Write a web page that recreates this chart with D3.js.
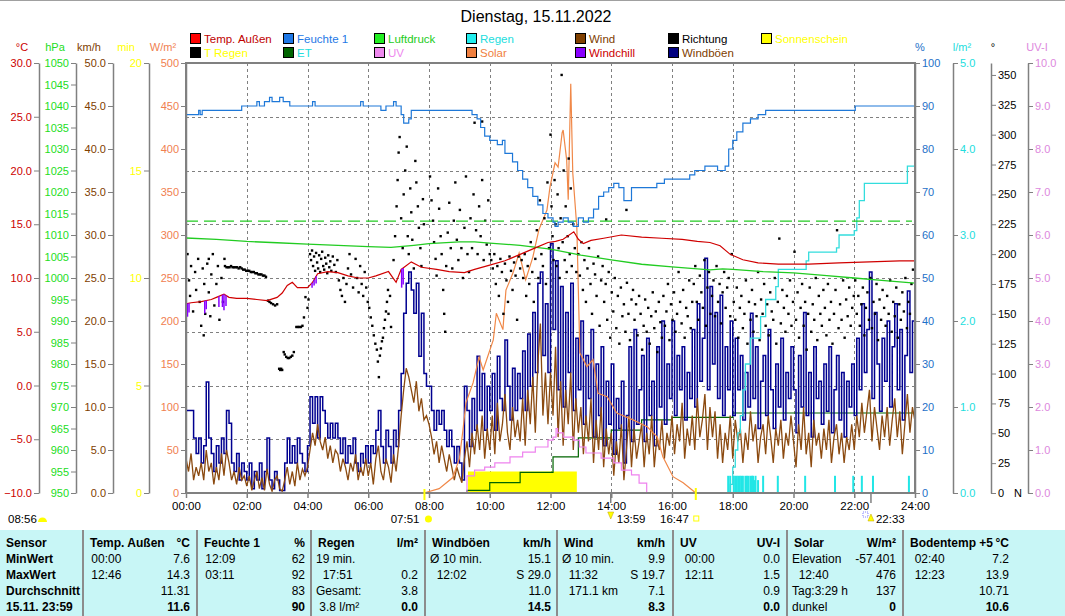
<!DOCTYPE html>
<html><head><meta charset="utf-8">
<script src="https://cdn.jsdelivr.net/npm/d3@7"></script>
<style>body{margin:0;background:#fff;} svg{display:block;font-family:"Liberation Sans",Arial,sans-serif;}</style>
</head><body><svg id="c" width="1065" height="616"></svg>
<script>
// ---------------- DATA ----------------
const title = "Dienstag, 15.11.2022";
const xTickLabels = ["00:00","02:00","04:00","06:00","08:00","10:00","12:00","14:00","16:00","18:00","20:00","22:00","24:00"];

const humidity = [["00:00",88],["00:25",89],["00:28",88],["00:32",89],["01:50",90],["02:20",91],["02:25",90],["02:35",91],["02:45",92],["02:50",91],["03:05",92],["03:12",91],["03:25",90],["04:00",90],["04:10",91],["04:15",90],["05:40",90],["05:45",91],["05:50",90],["06:25",89],["06:35",90],["06:50",91],["06:55",90],["07:05",88],["07:10",86],["07:20",87],["07:25",89],["09:20",89],["09:25",88],["09:35",87],["09:42",85],["09:50",83],["10:00",82],["10:15",81],["10:25",82],["10:30",79],["10:45",77],["10:55",75],["11:05",73],["11:15",71],["11:25",69],["11:35",67],["11:45",65],["11:55",64],["12:05",63],["12:09",62],["12:15",63],["12:25",64],["12:35",63],["12:45",62],["12:55",64],["13:05",63],["13:15",64],["13:25",66],["13:35",69],["13:45",70],["13:55",71],["14:05",72],["14:15",71],["14:25",68],["14:40",71],["15:00",71],["15:30",72],["15:45",73],["16:20",73],["16:35",74],["16:45",75],["17:05",76],["17:30",75],["17:45",76],["17:52",80],["18:00",82],["18:08",84],["18:20",86],["18:35",87],["18:50",88],["19:05",89],["22:02",90],["24:00",90]];

const temperature = [["00:00",7.6],["00:10",7.7],["00:30",7.8],["00:50",8.0],["01:00",8.2],["01:15",8.5],["01:25",8.2],["01:40",8.1],["02:00",8.1],["02:20",8.0],["02:40",7.9],["03:00",8.2],["03:10",8.6],["03:20",9.3],["03:30",9.6],["03:40",9.1],["04:00",9.1],["04:10",9.6],["04:20",10.4],["04:40",10.6],["05:00",10.5],["05:20",10.2],["05:40",10.0],["06:00",10.0],["06:15",10.2],["06:40",10.6],["06:55",9.6],["07:05",10.8],["07:25",11.5],["07:45",11.0],["08:15",10.8],["08:40",10.6],["09:10",10.5],["09:30",10.8],["10:00",11.2],["10:30",11.6],["11:00",12.2],["11:30",12.8],["11:55",13.3],["12:10",13.4],["12:25",13.6],["12:46",14.3],["12:55",13.6],["13:05",13.2],["13:20",13.5],["13:45",13.7],["14:20",14.0],["15:00",13.8],["15:40",13.7],["16:20",13.6],["16:50",13.4],["17:15",13.3],["17:35",13.0],["17:55",12.2],["18:20",11.7],["18:50",11.4],["19:30",11.3],["20:30",11.3],["21:30",11.4],["22:30",11.5],["23:30",11.6],["24:00",11.6]];

const windchill = [["00:00",6.1],["00:03",6.4],["00:06",6.8],["00:37",6.7],["00:40",7.1],["01:05",7.3],["01:12",7.3],["01:15",7.0],["01:19",7.4],["04:09",9.1],["04:13",9.3],["04:17",9.5],["07:06",9.1],["07:09",9.4]];

const pressure = [["00:00",1009.3],["01:00",1009.0],["02:00",1008.5],["03:00",1008.2],["04:00",1007.9],["05:00",1007.6],["06:00",1007.3],["06:45",1007.1],["07:30",1007.6],["08:00",1008.0],["09:00",1008.4],["09:30",1008.4],["10:00",1008.1],["11:00",1007.6],["11:40",1007.0],["12:00",1006.7],["13:00",1005.3],["14:00",1004.2],["15:00",1003.2],["16:00",1002.6],["17:15",1001.9],["17:40",1002.1],["18:00",1002.0],["19:00",1001.5],["20:00",1001.2],["21:00",1000.6],["22:00",1000.0],["23:00",999.4],["24:00",998.8]];
const pressureRef = 1013.25;

// 5-minute values, one row per hour
const gust = [
 [9.6,9.6,9.6,6.4,4.6,6.4,3.5,5.5,12.9,6.4,4.6,2.5],
 [5.5,3.5,6.4,4.6,9.6,8.1,3.5,2.5,4.6,1.5,3.5,2.5],
 [1.5,3.5,0.5,2.5,1.5,3.5,0.5,2.5,6.4,1.5,0.5,2.5],
 [1.5,0.3,0.3,3.5,6.4,3.5,5.5,3.5,6.4,4.6,3.5,2.5],
 [5.5,11.2,8.1,11.2,6.4,11.2,9.6,8.1,6.4,8.1,6.4,8.1],
 [6.4,4.6,6.4,3.5,5.5,4.6,6.4,3.5,2.5,4.6,3.5,5.5],
 [3.5,5.5,4.6,7.3,9.6,5.4,3.5,7.3,5.4,3.5,7.3,5.4],
 [9.6,13.9,20.9,24.4,25.7,23.6,20.9,24.4,15.9,20.9,13.9,12.4],
 [12.4,9.6,7.3,9.6,8.0,9.6,7.3,5.4,7.3,5.4,3.5,5.4],
 [3.5,1.5,12.4,9.6,5.4,11.0,7.3,15.9,9.6,13.9,7.3,12.4],
 [9.6,13.9,7.3,15.9,11.0,9.6,17.8,12.4,8.5,14.5,9.6,13.9],
 [11.0,16.5,9.6,18.5,12.4,21.0,14.0,24.4,25.7,16.0,22.0,14.0],
 [29.0,19.0,27.0,12.0,24.0,10.0,21.0,14.0,24.4,9.6,18.0,12.0],
 [20.0,8.0,16.0,11.0,19.0,6.5,15.0,9.0,17.0,5.5,13.0,8.0],
 [15.0,4.5,11.0,7.5,13.0,3.5,9.0,17.0,6.0,19.0,8.0,12.0],
 [16.0,6.0,18.0,9.0,13.0,5.5,17.0,10.0,20.0,8.0,15.0,11.0],
 [20.0,9.0,16.0,12.0,17.0,8.5,14.0,11.0,19.0,10.0,22.0,13.0],
 [18.0,27.3,12.0,24.0,15.0,21.0,11.0,23.0,9.0,17.0,12.0,20.0],
 [9.0,18.0,12.0,16.0,8.5,14.0,10.0,20.9,11.0,17.0,7.5,13.0],
 [16.0,9.0,19.0,12.0,7.5,15.0,10.0,18.0,8.5,14.0,11.0,17.0],
 [12.0,7.0,16.0,10.0,21.0,9.0,14.0,6.5,17.0,11.0,13.0,8.0],
 [15.0,9.5,17.0,7.0,12.0,16.0,8.5,14.0,6.5,13.0,10.0,15.0],
 [9.0,18.0,12.0,22.0,14.0,19.0,25.7,11.0,21.0,15.0,9.5,18.0],
 [13.0,20.0,10.0,17.0,22.0,12.0,19.0,8.5,16.0,23.5,14.0,20.0],
 [15.0]];

const wind = [
 [4.0,2.5,4.6,1.5,3.0,2.0,3.5,1.5,5.0,2.5,3.5,1.0],
 [3.0,1.5,4.6,2.0,5.0,3.5,1.5,2.5,1.0,3.0,1.5,2.0],
 [0.8,2.0,0.3,1.5,2.5,0.5,1.8,0.3,2.8,1.0,0.2,1.5],
 [2.0,0.5,0.2,1.5,3.0,1.0,2.5,0.8,3.5,1.5,2.8,2.0],
 [3.0,5.0,7.0,5.5,8.0,6.0,5.0,6.5,4.0,5.5,3.5,5.0],
 [4.5,2.5,4.0,3.0,1.5,3.5,2.5,4.5,1.5,3.0,2.0,4.0],
 [2.0,3.5,1.0,4.0,5.5,2.5,1.5,4.0,3.0,1.2,4.5,2.5],
 [5.5,9.0,12.0,14.5,13.5,12.0,10.5,13.0,9.5,11.0,8.5,9.0],
 [8.0,6.5,4.5,6.0,3.5,5.5,4.0,2.5,4.5,3.0,1.5,3.0],
 [2.0,1.2,4.0,6.0,3.0,7.0,4.5,8.0,5.0,9.0,4.0,7.5],
 [5.0,9.0,4.5,10.5,6.0,8.0,11.5,7.0,5.0,10.0,6.5,8.5],
 [6.0,11.0,5.5,12.0,8.0,13.5,7.0,15.0,19.7,9.0,14.0,8.0],
 [14.0,9.0,17.0,6.5,13.0,5.5,12.0,8.0,14.0,5.0,11.0,7.0],
 [10.0,4.5,9.0,6.0,11.0,3.5,8.5,5.0,10.0,3.0,7.5,4.5],
 [7.0,2.0,6.0,3.5,8.0,1.5,5.0,9.0,3.0,7.5,4.0,6.0],
 [8.0,3.0,7.0,4.5,9.0,3.0,6.5,5.0,8.5,4.0,7.0,5.5],
 [9.0,4.5,8.0,6.0,10.5,4.0,7.5,5.5,9.0,5.0,11.0,6.5],
 [8.5,11.5,5.0,10.0,6.5,9.5,4.0,8.0,3.5,7.0,5.0,9.0],
 [4.0,8.5,6.0,7.5,3.5,7.0,5.0,9.5,6.0,8.0,3.5,6.5],
 [8.0,4.5,9.0,6.5,3.5,7.5,5.5,8.5,4.0,7.0,5.5,9.0],
 [6.0,3.0,8.0,5.0,10.0,4.5,7.0,3.0,8.5,5.5,7.0,4.0],
 [7.5,5.0,8.5,3.5,6.5,8.0,4.5,7.0,3.5,6.5,5.0,8.0],
 [5.0,9.0,6.5,10.5,7.0,9.5,12.0,6.0,10.0,7.5,5.0,9.0],
 [6.5,10.0,5.5,8.5,11.0,6.5,9.5,4.5,8.0,11.5,7.0,10.0],
 [8.3]];

const solar = [["07:50",0],["08:20",5],["08:47",18],["09:00",40],["09:07",73],["09:13",105],["09:27",128],["09:39",158],["09:47",143],["10:07",178],["10:13",209],["10:26",190],["10:32",236],["10:46",256],["10:58",279],["11:11",248],["11:25",274],["11:37",306],["11:53",329],["11:59",356],["12:09",384],["12:15",379],["12:23",419],["12:25",422],["12:32",387],["12:35",341],["12:40",476],["12:44",372],["12:52",309],["12:58",163],["13:12",147],["13:24",155],["13:34",116],["13:52",112],["14:11",93],["14:43",85],["15:11",77],["15:31",65],["15:42",42],["16:02",19],["16:22",12],["16:41",3],["16:47",0]];

const uv = [["00:00",0],["09:15",0.4],["09:30",0.53],["09:50",0.6],["10:10",0.7],["10:40",0.84],["11:05",0.95],["11:30",1.07],["11:55",1.23],["12:05",1.3],["12:11",1.5],["12:14",1.4],["12:25",1.3],["12:45",1.23],["12:57",1.07],["13:10",0.93],["13:40",0.81],["14:05",0.7],["14:20",0.53],["14:40",0.42],["14:55",0.23],["15:10",0]];

const et = [["07:51",0],["09:15",0.03],["10:00",0.12],["11:00",0.24],["12:05",0.42],["12:55",0.64],["14:00",0.73],["15:00",0.85],["16:00",0.88],["18:00",0.93],["24:00",0.95]];

const rainTotal = [["17:51",0],["17:55",0.1],["18:00",0.3],["18:05",0.5],["18:10",0.7],["18:15",0.9],["18:20",1.2],["18:25",1.5],["18:35",1.8],["18:55",2.05],["19:05",2.25],["19:25",2.4],["19:30",2.6],["20:25",2.7],["20:30",2.8],["21:25",2.85],["21:30",3.0],["22:00",3.05],["22:05",3.2],["22:10",3.4],["22:20",3.6],["23:45",3.8],["24:00",3.8]];
const rainRate = [["17:51",0.2],["17:55",0.2],["18:02",0.2],["18:05",0.2],["18:08",0.2],["18:11",0.2],["18:14",0.2],["18:17",0.2],["18:20",0.2],["18:25",0.2],["18:28",0.2],["18:31",0.2],["18:35",0.2],["18:38",0.2],["18:40",0.2],["18:43",0.15],["18:45",0.2],["18:50",0.15],["19:00",0.2],["19:29",0.2],["20:23",0.2],["21:22",0.2],["21:58",0.2],["22:15",0.2],["22:37",0.2],["23:48",0.2]];

const sunshine = [["09:17","12:52",1.0]];

// wind direction samples [minute of day, degrees]
const direction = [
[3,200],[6,178],[8,165],[10,190],[14,152],[18,185],[20,170],[24,196],[27,160],[30,140],[33,188],[36,175],[38,150],[42,192],[45,168],[48,148],[50,183],[53,200],[56,157],[60,175],[63,190],[66,145],[70,180],[73,160],[76,196],[35,132],[45,196],
[77,190],[80,189],[83,189],[86,189],[89,190],[92,189],[95,189],[98,189],[101,189],[104,188],[107,189],[110,188],[113,187],[116,187],[119,186],[122,186],[125,186],[128,185],[131,185],[134,185],[137,184],[140,184],[143,183],[146,183],[149,183],[152,182],[155,182],[158,181],
[162,161],[165,160],[168,159],[172,158],[176,157],[180,158],
[184,104],[186,103],[188,104],[190,103],
[193,118],[195,116],[198,114],[201,113],[204,113],[207,114],[210,115],[213,118],
[218,139],[221,139],[224,139],[227,139],[230,140],
[233,147],[236,164],[240,155],[242,162],
[245,200],[247,195],[249,203],[251,190],[253,198],[255,186],[257,201],[259,193],[261,188],[263,199],[265,185],[267,196],[269,202],[271,190],[273,187],[275,197],[277,192],[279,184],[281,199],[283,189],[285,194],[287,186],[290,198],[293,191],[296,185],[299,195],[302,178],[305,170],[308,165],[311,180],[314,160],[317,175],[320,188],[323,200],[326,183],[330,172],
[335,196],[338,180],[341,168],[344,190],[347,175],[350,165],[353,185],[356,172],[359,160],
[362,155],[365,147],[368,140],[371,132],[374,125],[377,120],[379,110],[381,97],[383,115],[385,121],[387,127],[389,130],[391,138],[393,145],[395,152],[397,160],[399,170],[400,150],[403,165],[405,139],
[410,195],[413,215],[416,240],[418,262],[420,285],[422,298],[425,230],[428,205],[430,250],[433,270],[436,290],[438,215],[440,200],[443,255],[445,235],[447,212],[450,188],[453,278],[455,260],[458,240],[460,222],[463,205],[465,190],[468,246],[470,225],
[482,265],[485,245],[488,228],[490,210],[493,196],[495,182],[498,255],[500,238],[503,215],[505,200],[508,170],[510,150],[512,135],[514,190],[517,218],[520,243],[523,205],[526,188],[529,228],[532,260],[535,212],[538,195],[541,237],[544,205],[547,180],[550,222],[553,265],[556,200],[559,185],
[562,230],[565,205],[568,250],[570,310],[573,220],[576,200],[579,240],[582,215],[585,262],[588,195],[591,228],[594,208],[597,245],[600,200],[585,311],
[603,195],[606,188],[609,200],[612,175],[615,190],[618,165],[621,196],[624,185],[627,150],[630,192],[633,178],[636,160],[639,198],[642,186],[645,170],[648,193],[651,182],[654,145],[657,198],[660,188],
[663,195],[666,180],[669,200],[672,165],[675,190],[678,175],[681,210],[684,185],[687,160],[690,196],[693,220],[696,180],[699,245],[702,200],[705,190],[708,230],[711,175],[714,260],[717,205],
[720,300],[722,240],[724,215],[726,195],[728,262],[730,225],[732,190],[734,250],[736,205],[738,180],[740,230],[742,350],[744,210],[746,270],[748,195],[750,240],[752,185],[754,215],[756,280],[758,200],[760,255],[762,190],[765,225],[768,205],[771,185],
[775,200],[778,182],[781,210],[784,170],[787,195],[790,160],[793,188],[796,205],[799,175],[802,150],[805,192],[808,183],[811,165],[814,198],[817,140],[820,178],
[823,190],[826,160],[829,175],[832,145],[835,185],[838,130],[841,168],[844,152],[847,180],[850,138],[853,165],[856,125],[859,172],[862,148],[865,158],[868,135],[871,176],[874,150],[877,128],[880,162],[830,229],[870,237],
[883,170],[886,145],[889,158],[892,132],[895,165],[898,150],[901,120],[904,140],[907,162],[910,135],[913,155],[916,125],[919,148],[922,168],[925,138],[928,152],[931,118],[934,160],[937,143],[940,130],
[943,165],[946,140],[949,152],[952,175],[955,128],[958,158],[961,145],[964,168],[967,135],[970,150],[973,185],[976,160],[979,142],[982,170],[985,130],[988,155],[991,148],[994,178],[997,138],[1000,160],
[1003,175],[1006,190],[1009,160],[1012,145],[1015,182],[1018,168],[1021,155],[1024,195],[1027,140],[1030,172],[1033,185],[1036,150],[1039,165],[1042,178],[1045,148],[1048,190],[1051,160],[1054,175],[1057,142],[1060,168],[1063,185],[1066,155],[1069,172],[1072,180],[1075,148],[1078,200],
[1082,160],[1085,145],[1088,172],[1091,130],[1094,155],[1097,165],[1100,138],[1103,150],[1106,178],[1109,125],[1112,160],[1115,145],[1118,170],[1121,135],[1124,158],[1127,148],[1130,185],[1133,128],[1136,162],[1139,150],
[1142,175],[1145,140],[1148,158],[1151,132],[1154,168],[1157,152],[1160,145],[1163,180],[1166,125],[1169,160],[1172,213],[1175,142],[1178,170],[1181,155],[1184,135],[1187,165],[1190,150],[1193,178],[1196,140],[1199,160],
[1202,202],[1205,145],[1208,168],[1211,130],[1214,155],[1217,175],[1220,140],[1223,160],[1226,120],[1229,150],[1232,172],[1235,135],[1238,158],[1241,145],[1244,180],[1247,128],[1250,165],[1253,150],[1256,140],[1259,170],
[1262,155],[1265,132],[1268,175],[1271,145],[1274,160],[1277,125],[1280,150],[1283,170],[1286,220],[1289,138],[1292,158],[1295,145],[1298,178],[1301,130],[1304,162],[1307,148],[1310,172],[1313,140],[1316,155],[1319,165],
[1322,178],[1325,150],[1328,165],[1331,140],[1334,158],[1337,172],[1340,132],[1343,155],[1346,168],[1349,145],[1352,180],[1355,138],[1358,160],[1361,150],[1364,175],[1367,128],[1370,162],[1373,145],[1376,170],[1379,155],
[1382,140],[1385,165],[1388,150],[1391,178],[1394,135],[1397,160],[1400,148],[1403,172],[1406,130],[1409,158],[1412,145],[1415,168],[1418,152],[1421,180],[1424,138],[1427,160],[1430,150],[1433,175],[1436,187]];

const legendRow1 = [["Temp. Außen","#ff0000","#c00000"],["Feuchte 1","#1e78e6","#1e78e6"],["Luftdruck","#22ee22","#22cc22"],["Regen","#22eeee","#22dddd"],["Wind","#804000","#804000"],["Richtung","#000000","#000000"],["Sonnenschein","#ffff00","#ffff00"]];
const legendRow2 = [["T Regen","#000000","#ffff00"],["ET","#006400","#22dddd"],["UV","#ee88ee","#ee88ee"],["Solar","#f08040","#f08040"],["Windchill","#8800ff","#cc0000"],["Windböen","#000080","#804000"]];

const markers = ["08:56","07:51","13:59","16:47","22:33"];

const tableHeaders = [["Sensor",""],["Temp. Außen","°C"],["Feuchte 1","%"],["Regen","l/m²"],["Windböen","km/h"],["Wind","km/h"],["UV","UV-I"],["Solar","W/m²"],["Bodentemp +5","°C"]];
const tableLeft = [
 ["MinWert","MaxWert","Durchschnitt","15.11. 23:59"],
 [" 00:00"," 12:46","",""],
 [" 12:09"," 03:11","",""],
 ["19 min.","  17:51","Gesamt:"," 3.8 l/m²"],
 ["Ø 10 min.","  12:02","",""],
 ["Ø 10 min.","  11:32","  171.1 km",""],
 ["  00:00","  12:11","",""],
 ["Elevation","  12:40","Tag:3:29 h","dunkel"],
 ["  02:40","  12:23","",""]];
const tableRight = [
 ["","","",""],
 ["7.6","14.3","11.31","11.6"],
 ["62","92","83","90"],
 ["","0.2","3.8","0.0"],
 ["15.1","S 29.0","11.0","14.5"],
 ["9.9","S 19.7","7.1","8.3"],
 ["0.0","1.5","0.9","0.0"],
 ["-57.401","476","137","0"],
 ["7.2","13.9","10.71","10.6"]];

// ---------------- DRAW ----------------
const svg = d3.select("#c");
const FONT = "'Liberation Sans', Arial, sans-serif";
const T = s => { const [h,m] = s.split(":").map(Number); return h + m/60; };
const nb = s => s.replace(/ /g, "\u00a0");
const L = 186, R = 915, TOP = 63, BOT = 493;
const x = d3.scaleLinear([0,24],[L,R]);
const yT = d3.scaleLinear([-10,30],[BOT,TOP]);
const yP = d3.scaleLinear([950,1050],[BOT,TOP]);
const yW = d3.scaleLinear([0,50],[BOT,TOP]);
const yMin = d3.scaleLinear([0,20],[BOT,TOP]);
const yS = d3.scaleLinear([0,500],[BOT,TOP]);
const yH = d3.scaleLinear([0,100],[BOT,TOP]);
const yR = d3.scaleLinear([0,5],[BOT,TOP]);
const yD = d3.scaleLinear([0,360],[BOT,TOP]);
const yU = d3.scaleLinear([0,10],[BOT,TOP]);
const GRAY = "#808080";

svg.append("line").attr("x1",0).attr("x2",1065).attr("y1",0.5).attr("y2",0.5).attr("stroke","#a0a0a0");

// title
svg.append("text").attr("x",536).attr("y",22).attr("text-anchor","middle").attr("font-size",16).attr("font-family",FONT).attr("fill","#000").text(title);

// legend
function legendRow(items, y) {
  const xs = [190,283,374,466,575,668,761];
  items.forEach((it,i) => {
    svg.append("rect").attr("x",xs[i]+0.5).attr("y",y-5.5).attr("width",10).attr("height",10).attr("fill",it[1]).attr("stroke","#000");
    svg.append("text").attr("x",xs[i]+14).attr("y",y+4).attr("font-size",11.5).attr("font-family",FONT).attr("fill",it[2]).text(it[0]);
  });
}
legendRow(legendRow1, 39);
legendRow(legendRow2, 53);

// gridlines
const grid = svg.append("g").attr("stroke",GRAY).attr("stroke-dasharray","3,3").attr("stroke-width",1);
d3.range(2,24,2).forEach(h => grid.append("line").attr("x1",Math.round(x(h))+0.5).attr("x2",Math.round(x(h))+0.5).attr("y1",TOP).attr("y2",BOT));
d3.range(-5,30,5).forEach(t => grid.append("line").attr("x1",L).attr("x2",R).attr("y1",Math.round(yT(t))+0.5).attr("y2",Math.round(yT(t))+0.5));

// axes helpers
function styleAxis(g, color) {
  g.attr("font-family",FONT).attr("font-size",11);
  g.select(".domain").attr("stroke",GRAY).attr("stroke-width",1.5);
  g.selectAll(".tick line").attr("stroke",GRAY);
  g.selectAll(".tick text").attr("fill",color);
}
function leftAxis(px, scale, ticks, fmt, color) {
  const g = svg.append("g").attr("transform",`translate(${px},0)`)
    .call(d3.axisLeft(scale).tickValues(ticks).tickFormat(fmt).tickSize(5).tickSizeOuter(0).tickPadding(2));
  styleAxis(g,color);
}
function rightAxis(px, scale, ticks, fmt, color) {
  const g = svg.append("g").attr("transform",`translate(${px},0)`)
    .call(d3.axisRight(scale).tickValues(ticks).tickFormat(fmt).tickSize(5).tickSizeOuter(0).tickPadding(2));
  styleAxis(g,color);
}
leftAxis(39, yT, d3.range(-10,31,5), d3.format(".1f"), "#cc0000");
leftAxis(76, yP, d3.range(950,1051,5), d3.format("d"), "#22dd22");
leftAxis(113, yW, d3.range(0,51,5), d3.format(".1f"), "#804000");
leftAxis(149, yMin, d3.range(0,21,5), d3.format("d"), "#ffff00");
leftAxis(L, yS, d3.range(0,501,50), d3.format("d"), "#f08050");
rightAxis(R, yH, d3.range(0,101,10), d3.format("d"), "#1e70c8");
rightAxis(953, yR, d3.range(0,5.01,1), d3.format(".1f"), "#22dddd");
rightAxis(991, yD, d3.range(0,351,25), d3.format("d"), "#000");
rightAxis(1028, yU, d3.range(0,10.01,1), d3.format(".1f"), "#dd88dd");

// axis headers
const heads = [["°C",22,"#cc0000"],["hPa",55,"#22dd22"],["km/h",89,"#804000"],["min",126,"#ffff00"],["W/m²",163,"#f08050"],["%",920,"#1e70c8"],["l/m²",962,"#22dddd"],["°",993,"#000"],["UV-I",1037,"#dd88dd"]];
heads.forEach(h => svg.append("text").attr("x",h[1]).attr("y",51).attr("text-anchor","middle").attr("font-size",11).attr("font-family",FONT).attr("fill",h[2]).text(h[0]));
svg.append("text").attr("x",1014).attr("y",497).attr("font-size",11).attr("font-family",FONT).text("N");

// x axis
const gx = svg.append("g").attr("transform",`translate(0,${BOT})`)
  .call(d3.axisBottom(x).tickValues(d3.range(0,25,2)).tickFormat((d,i)=>xTickLabels[i]).tickSize(5).tickSizeOuter(0).tickPadding(4));
gx.attr("font-family",FONT).attr("font-size",11.5);
gx.select(".domain").remove();
gx.selectAll(".tick line").attr("stroke",GRAY).attr("stroke-width",1.5);
gx.selectAll(".tick text").attr("fill","#000");

// sunshine bars
svg.append("g").selectAll("rect").data(sunshine).join("rect")
  .attr("x",d=>x(T(d[0]))).attr("width",d=>x(T(d[1]))-x(T(d[0])))
  .attr("y",d=>yMin(d[2])).attr("height",d=>BOT-yMin(d[2])).attr("fill","#ffff00");

// ET
const stepLine = (ys) => d3.line().x(d=>x(T(d[0]))).y(d=>ys(d[1])).curve(d3.curveStepAfter);
svg.append("path").datum(et).attr("d",stepLine(yR)).attr("fill","none").attr("stroke","#006400").attr("stroke-width",1.2);

// gusts and wind
const gustPts = gust.flat().map((v,i)=>[i/12,v]);
const windPts = wind.flat().map((v,i)=>[i/12,v]);
svg.append("path").datum(gustPts).attr("d",d3.line().x(d=>x(d[0])).y(d=>yW(d[1])).curve(d3.curveStepAfter))
  .attr("fill","none").attr("stroke","#000090").attr("stroke-width",1.5);
svg.append("path").datum(windPts).attr("d",d3.line().x(d=>x(d[0])).y(d=>yW(d[1])))
  .attr("fill","none").attr("stroke","#8b4a10").attr("stroke-width",1.3);

// UV
svg.append("path").datum(uv).attr("d",stepLine(yU)).attr("fill","none").attr("stroke","#ee82ee").attr("stroke-width",1.2);
// Solar
svg.append("path").datum(solar).attr("d",d3.line().x(d=>x(T(d[0]))).y(d=>yS(d[1]))).attr("fill","none").attr("stroke","#f08848").attr("stroke-width",1.2);

// direction
svg.append("g").selectAll("rect").data(direction).join("rect")
  .attr("x",d=>x(d[0]/60)-1.2).attr("y",d=>yD(d[1])-1.2).attr("width",2.4).attr("height",2.4).attr("fill","#000");

// rain
svg.append("g").selectAll("rect").data(rainRate).join("rect")
  .attr("x",d=>x(T(d[0]))-1).attr("width",2).attr("y",d=>yR(d[1])).attr("height",d=>BOT-yR(d[1])).attr("fill","#22e6e6");
svg.append("path").datum(rainTotal).attr("d",stepLine(yR)).attr("fill","none").attr("stroke","#33dddd").attr("stroke-width",1.3);

// pressure
svg.append("line").attr("x1",L).attr("x2",R-3).attr("y1",yP(pressureRef)).attr("y2",yP(pressureRef))
  .attr("stroke","#22cc22").attr("stroke-dasharray","12,6").attr("stroke-width",1.2);
svg.append("path").datum(pressure).attr("d",d3.line().x(d=>x(T(d[0]))).y(d=>yP(d[1]))).attr("fill","none").attr("stroke","#22cc22").attr("stroke-width",1.3);

// temperature
svg.append("path").datum(temperature).attr("d",d3.line().x(d=>x(T(d[0]))).y(d=>yT(d[1]))).attr("fill","none").attr("stroke","#d00000").attr("stroke-width",1.2);
const tempAt = d3.scaleLinear(temperature.map(d=>T(d[0])), temperature.map(d=>d[1]));
svg.append("g").selectAll("line").data(windchill).join("line")
  .attr("x1",d=>x(T(d[0]))).attr("x2",d=>x(T(d[0])))
  .attr("y1",d=>yT(tempAt(T(d[0])))).attr("y2",d=>yT(d[1])).attr("stroke","#8800ff").attr("stroke-width",1.5);

// humidity
svg.append("path").datum(humidity).attr("d",stepLine(yH)).attr("fill","none").attr("stroke","#1e78d8").attr("stroke-width",1.2);

// plot frame
svg.append("rect").attr("x",L).attr("y",TOP).attr("width",R-L).attr("height",BOT-TOP).attr("fill","none").attr("stroke",GRAY).attr("stroke-width",2);

// sun / moon markers
const mk = svg.append("g").attr("font-family",FONT).attr("font-size",11.5);
const mx = markers.map(m => x(T(m)));
mk.append("text").attr("x",8).attr("y",523).text(markers[0]);
mk.append("path").attr("d","M38,522 A4.5,4.5 0 0 1 47,522 Z").attr("fill","#ffff00");
mk.append("text").attr("x",mx[1]-5).attr("y",523).attr("text-anchor","end").text(markers[1]);
mk.append("circle").attr("cx",mx[1]+4).attr("cy",519).attr("r",3.5).attr("fill","#ffff00");
svg.append("line").attr("x1",mx[1]).attr("x2",mx[1]).attr("y1",489).attr("y2",500).attr("stroke","#ffff00").attr("stroke-width",2);
svg.append("line").attr("x1",mx[2]).attr("x2",mx[2]).attr("y1",493).attr("y2",503).attr("stroke",GRAY).attr("stroke-width",1.5);
mk.append("path").attr("d",`M${mx[2]-3},512 L${mx[2]+3},512 L${mx[2]},519 Z`).attr("fill","#ffff00").attr("stroke","#c0a000").attr("stroke-width",0.5);
mk.append("text").attr("x",mx[2]+6).attr("y",523).text(markers[2]);
mk.append("text").attr("x",mx[3]-7).attr("y",523).attr("text-anchor","end").text(markers[3]);
mk.append("rect").attr("x",mx[3]-2).attr("y",516).attr("width",5).attr("height",5).attr("fill","none").attr("stroke","#ffff00");
svg.append("line").attr("x1",mx[3]).attr("x2",mx[3]).attr("y1",488).attr("y2",500).attr("stroke","#ffff00").attr("stroke-width",2);
svg.append("line").attr("x1",mx[4]).attr("x2",mx[4]).attr("y1",493).attr("y2",503).attr("stroke",GRAY).attr("stroke-width",1.5);
mk.append("path").attr("d",`M${mx[4]-3},521 L${mx[4]+3},521 L${mx[4]},514 Z`).attr("fill","#ffff00").attr("stroke","#c0a000").attr("stroke-width",0.5);
mk.append("rect").attr("x",mx[4]-8).attr("y",512).attr("width",5).attr("height",5).attr("fill","none").attr("stroke","#8080ff").attr("stroke-dasharray","1,1");
mk.append("text").attr("x",mx[4]+5).attr("y",523).text(markers[4]);

// table
const TY = 530;
svg.append("rect").attr("x",0).attr("y",TY).attr("width",1065).attr("height",616-TY).attr("fill","#c8f6f6");
const sepX = [83,197,311,425,557,673,787,903];
const colStart = [6,90,204,318,432,564,680,794,910];
const colRight = [0,190,305,418,551,665,780,896,1009];
sepX.forEach(sx => svg.append("line").attr("x1",sx).attr("x2",sx).attr("y1",TY).attr("y2",616).attr("stroke","#8c8c8c").attr("stroke-width",2));
const tg = svg.append("g").attr("font-family",FONT).attr("font-size",12).attr("fill","#000");
const rowY = [547,563,579,595,611];
tableHeaders.forEach((h,c) => {
  tg.append("text").attr("x",colStart[c]).attr("y",rowY[0]).attr("font-weight","bold").text(h[0]);
  if (h[1]) tg.append("text").attr("x",colRight[c]).attr("y",rowY[0]).attr("text-anchor","end").attr("font-weight","bold").text(h[1]);
});
tableLeft.forEach((col,c) => col.forEach((s,r) => {
  if (!s) return;
  tg.append("text").attr("x",c===0?colStart[c]:colStart[c]-2).attr("y",rowY[r+1]).attr("font-weight",c===0?"bold":"normal").text(nb(s));
}));
tableRight.forEach((col,c) => col.forEach((s,r) => {
  if (!s) return;
  tg.append("text").attr("x",colRight[c]).attr("y",rowY[r+1]).attr("text-anchor","end").attr("font-weight",r===3?"bold":"normal").text(s);
}));
</script></body></html>
